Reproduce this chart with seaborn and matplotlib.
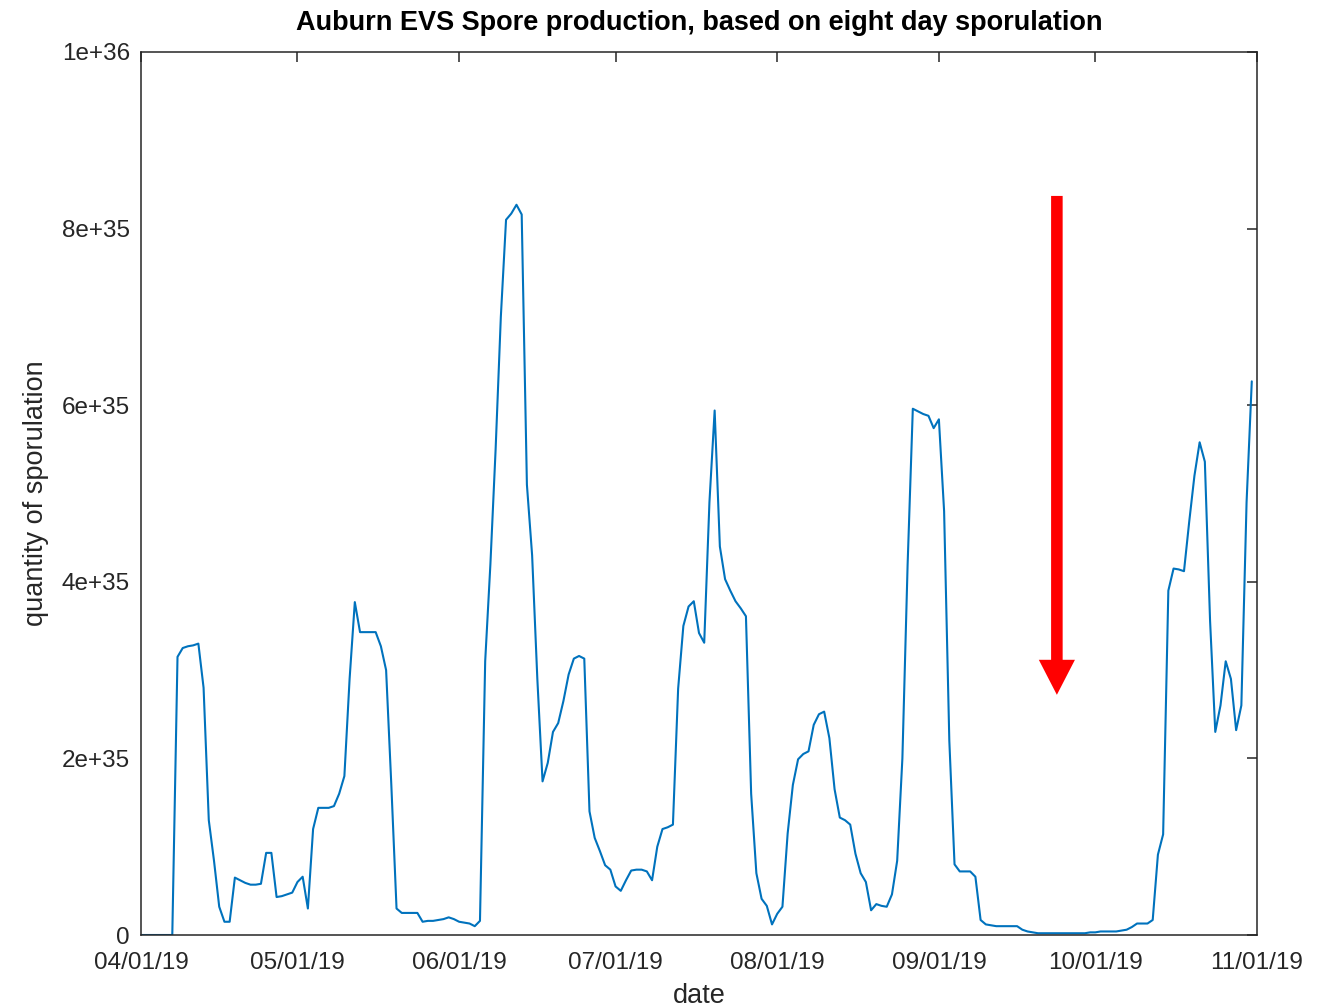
import numpy as np
import pandas as pd
import matplotlib
matplotlib.use("Agg")
import matplotlib.pyplot as plt
import seaborn as sns

# ---- data (values in units of 1e35, one per day) ----
april = [0, 0, 0, 0, 0, 0, 0, 3.15, 3.25, 3.27, 3.28, 3.30, 2.8, 1.3, 0.84,
         0.32, 0.15, 0.15, 0.65, 0.62, 0.59, 0.57, 0.57, 0.58, 0.93, 0.93,
         0.43, 0.44, 0.46, 0.48]
may = [0.6, 0.66, 0.30, 1.2, 1.44, 1.44, 1.44, 1.46, 1.6, 1.8, 2.9, 3.77,
       3.43, 3.43, 3.43, 3.43, 3.27, 3.0, 1.7, 0.3, 0.25, 0.25, 0.25, 0.25,
       0.15, 0.16, 0.16, 0.17, 0.18, 0.2, 0.18]
june = [0.15, 0.14, 0.13, 0.10, 0.16, 3.1, 4.2, 5.5, 7.0, 8.1, 8.17, 8.27,
        8.16, 5.1, 4.3, 2.9, 1.74, 1.95, 2.30, 2.40, 2.65, 2.95, 3.13, 3.16,
        3.13, 1.4, 1.1, 0.95, 0.79, 0.74]
july = [0.55, 0.50, 0.62, 0.73, 0.74, 0.74, 0.72, 0.62, 1.0, 1.2, 1.22, 1.25,
        2.79, 3.5, 3.72, 3.78, 3.42, 3.31, 4.9, 5.94, 4.4, 4.03, 3.9, 3.78,
        3.7, 3.61, 1.6, 0.7, 0.41, 0.33, 0.12]
august = [0.24, 0.32, 1.15, 1.7, 1.99, 2.05, 2.08, 2.38, 2.5, 2.53, 2.23,
          1.65, 1.33, 1.30, 1.25, 0.92, 0.7, 0.60, 0.28, 0.35, 0.33, 0.32,
          0.46, 0.84, 2.0, 4.19, 5.96, 5.93, 5.9, 5.88, 5.74]
september = [5.84, 4.8, 2.2, 0.8, 0.72, 0.72, 0.72, 0.66, 0.17, 0.12, 0.11,
             0.10, 0.10, 0.10, 0.10, 0.10, 0.06, 0.04, 0.03, 0.02, 0.02, 0.02,
             0.02, 0.02, 0.02, 0.02, 0.02, 0.02, 0.02, 0.03]
october = [0.03, 0.04, 0.04, 0.04, 0.04, 0.05, 0.06, 0.09, 0.13, 0.13, 0.13,
           0.17, 0.91, 1.14, 3.9, 4.15, 4.14, 4.12, 4.68, 5.2, 5.58, 5.36,
           3.56, 2.3, 2.6, 3.1, 2.9, 2.32, 2.6, 4.9, 6.27]
UNIT = 1e35
START_DATE = "2019-04-01"

xtick_dates = ["2019-04-01", "2019-05-01", "2019-06-01", "2019-07-01",
               "2019-08-01", "2019-09-01", "2019-10-01", "2019-11-01"]
xtick_labels = ["04/01/19", "05/01/19", "06/01/19", "07/01/19",
                "08/01/19", "09/01/19", "10/01/19", "11/01/19"]
ytick_values = [0, 2e35, 4e35, 6e35, 8e35, 1e36]
ytick_labels = ["0", "2e+35", "4e+35", "6e+35", "8e+35", "1e+36"]

title = "Auburn EVS Spore production, based on eight day sporulation"
xlabel = "date"
ylabel = "quantity of sporulation"

# annotation arrow
ARROW_DATE = pd.Timestamp("2019-09-23 15:00")
ARROW_TOP = 8.37e35
ARROW_TIP = 2.72e35

# ---- plot ----
sns.set_style("white")
plt.rcParams["font.family"] = ["Liberation Sans", "DejaVu Sans"]

values = april + may + june + july + august + september + october
dates = pd.date_range(START_DATE, periods=len(values), freq="D")
df = pd.DataFrame({"date": dates, "spores": np.array(values) * UNIT})

fig = plt.figure(figsize=(13.32, 10.07), dpi=100)
ax = fig.add_axes([141 / 1332, (1007 - 935) / 1007, 1116 / 1332, 883 / 1007])

sns.lineplot(data=df, x="date", y="spores", ax=ax, color="#0072BD",
             linewidth=1.5)

ax.set_xlim(pd.Timestamp(xtick_dates[0]), pd.Timestamp(xtick_dates[-1]))
ax.set_ylim(ytick_values[0], ytick_values[-1])
ax.set_xticks(pd.to_datetime(xtick_dates))
ax.set_xticklabels(xtick_labels)
ax.set_yticks(ytick_values)
ax.set_yticklabels(ytick_labels)
ax.tick_params(direction="in", length=7, width=1.1, top=True, right=True,
               labelsize=17.5, colors="#262626")
ax.tick_params(axis="x", pad=12)
ax.tick_params(axis="y", pad=8)
for s in ax.spines.values():
    s.set_visible(True)
    s.set_linewidth(1.1)
    s.set_color("#262626")

ax.set_title(title, fontsize=19.5, fontweight="bold", pad=16, color="black")
ax.set_xlabel(xlabel, fontsize=19.5, labelpad=7, color="#262626")
ax.set_ylabel(ylabel, fontsize=19.5, labelpad=9, color="#262626")

ax.annotate("", xy=(ARROW_DATE, ARROW_TIP), xytext=(ARROW_DATE, ARROW_TOP),
            arrowprops=dict(arrowstyle="simple,head_length=0.97,head_width=1.0,tail_width=0.32",
                            mutation_scale=26, color="#FF0000",
                            shrinkA=0, shrinkB=0, lw=0))

fig.savefig("out.png", dpi=100)
